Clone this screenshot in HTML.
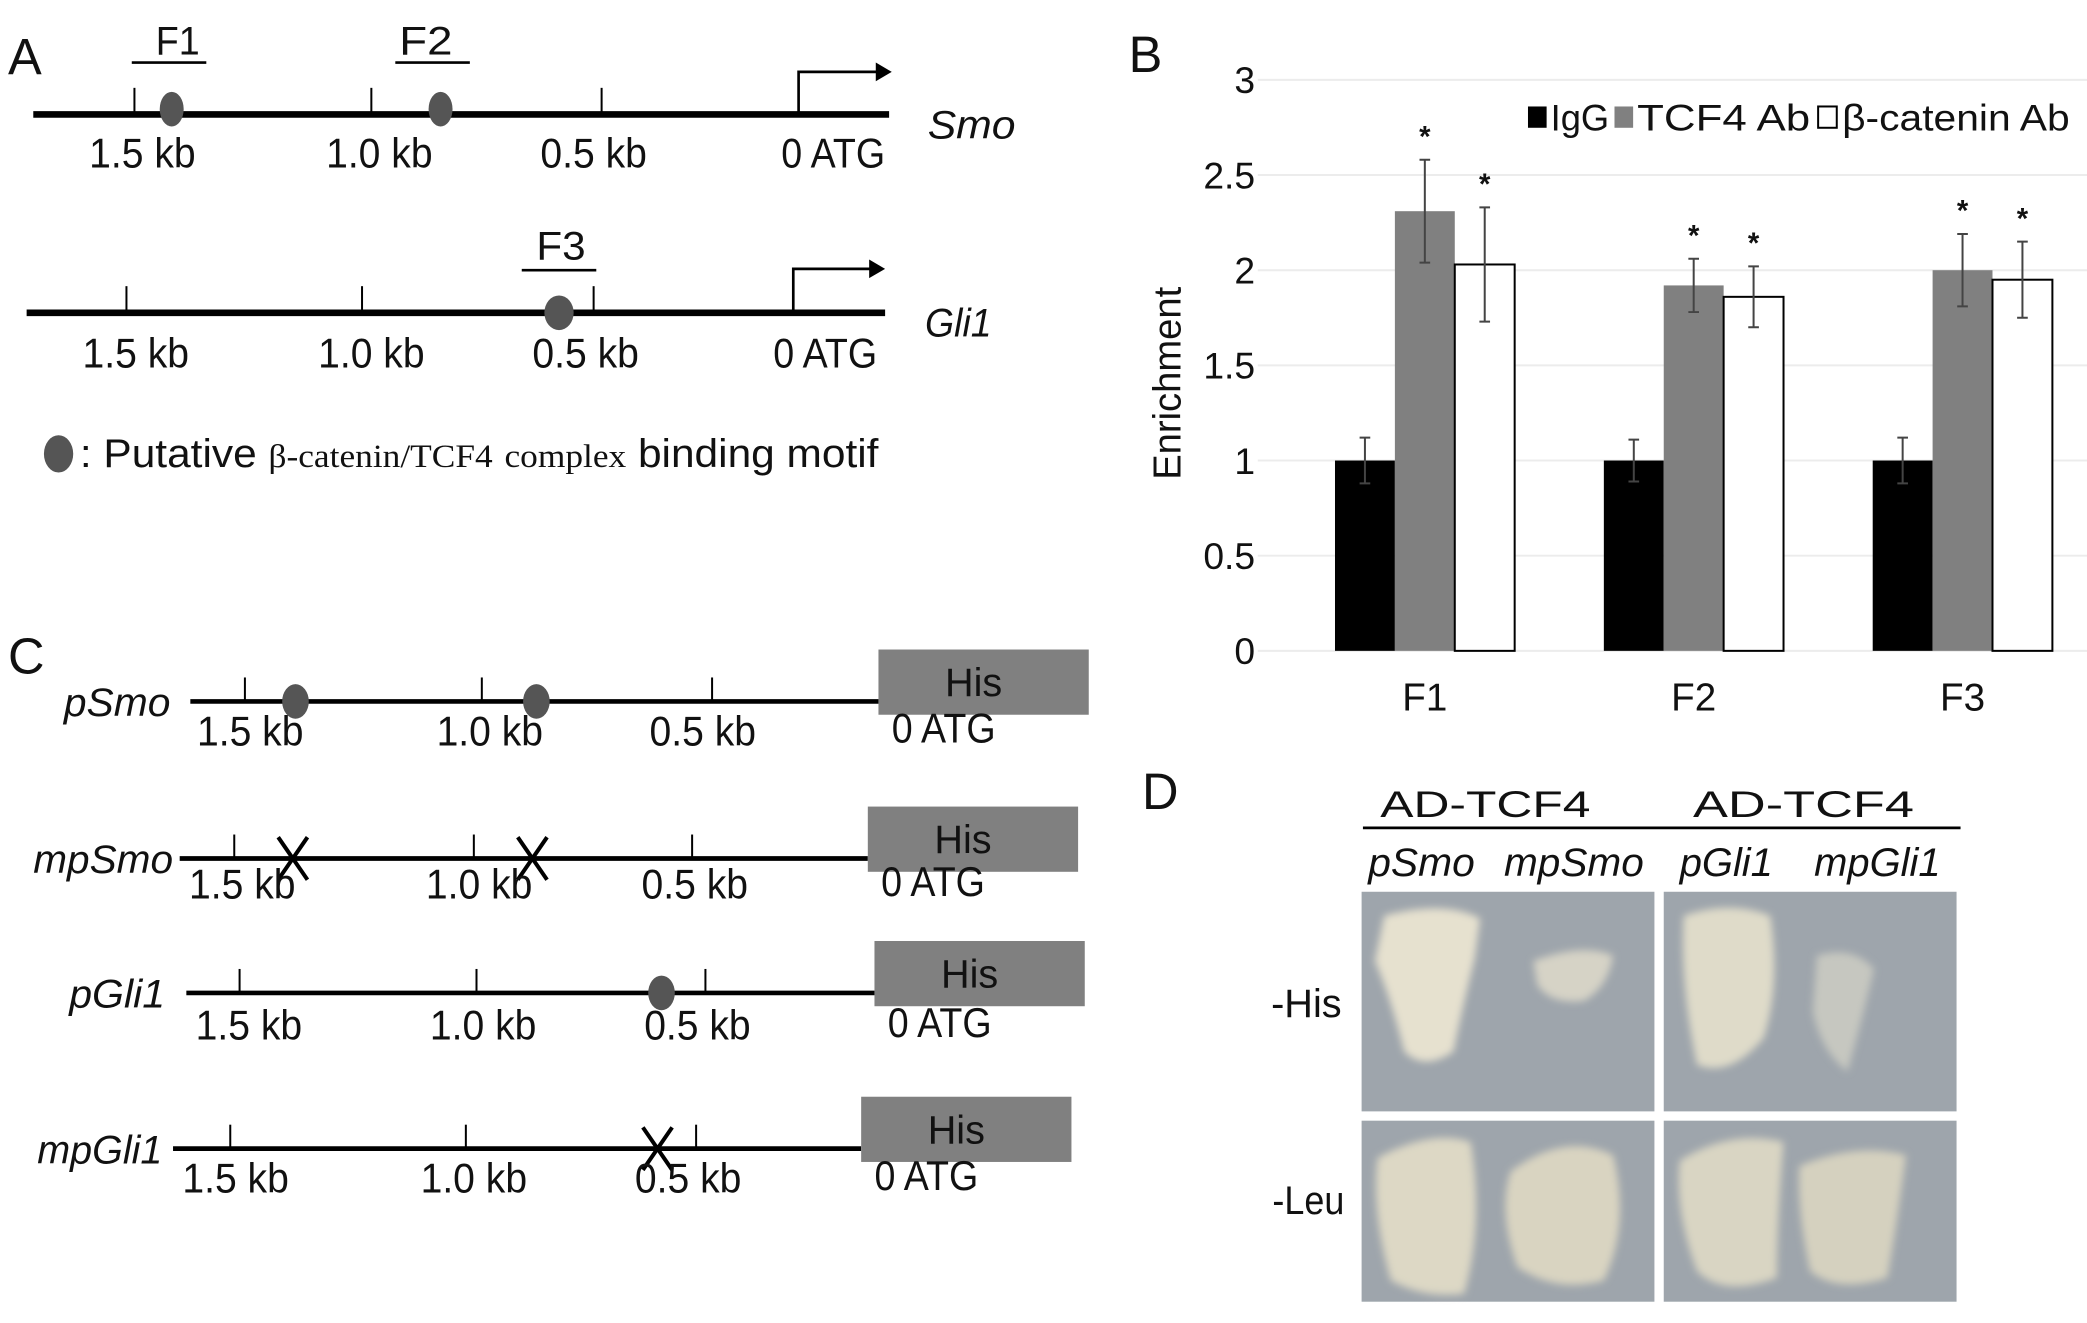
<!DOCTYPE html>
<html><head><meta charset="utf-8">
<style>
html,body{margin:0;padding:0;background:#fff;}
svg{display:block;}
text{font-family:"Liberation Sans",sans-serif;fill:#111;}
</style></head>
<body>
<svg id="fig" width="2087" height="1323" viewBox="0 0 1568 994" xmlns="http://www.w3.org/2000/svg">
<defs>
<filter id="blur" x="-20%" y="-20%" width="140%" height="140%"><feGaussianBlur stdDeviation="3"/></filter>
</defs>

<!-- Panel A -->
<g>
<text x="6" y="56" font-size="38">A</text>
<g>
<line x1="25" y1="86" x2="668" y2="86" stroke="#000" stroke-width="5"/>
<line x1="101" y1="66" x2="101" y2="86" stroke="#000" stroke-width="1.5"/>
<line x1="279" y1="66" x2="279" y2="86" stroke="#000" stroke-width="1.5"/>
<line x1="452" y1="66" x2="452" y2="86" stroke="#000" stroke-width="1.5"/>
<polyline points="600,86 600,54 660,54" fill="none" stroke="#000" stroke-width="2"/>
<polygon points="658,47 670,54 658,61" fill="#000"/>
<ellipse cx="129" cy="82" rx="9" ry="13" fill="#555"/>
<ellipse cx="331" cy="82" rx="9" ry="13" fill="#555"/>
<line x1="99" y1="47" x2="155" y2="47" stroke="#000" stroke-width="2"/>
<line x1="297" y1="47" x2="353" y2="47" stroke="#000" stroke-width="2"/>
<text x="117" y="41" font-size="30" textLength="33" lengthAdjust="spacingAndGlyphs">F1</text>
<text x="300" y="41" font-size="30" textLength="40" lengthAdjust="spacingAndGlyphs">F2</text>
<text x="67" y="126" font-size="31" textLength="80" lengthAdjust="spacingAndGlyphs">1.5 kb</text>
<text x="245" y="126" font-size="31" textLength="80" lengthAdjust="spacingAndGlyphs">1.0 kb</text>
<text x="406" y="126" font-size="31" textLength="80" lengthAdjust="spacingAndGlyphs">0.5 kb</text>
<text x="587" y="126" font-size="31" textLength="78" lengthAdjust="spacingAndGlyphs">0 ATG</text>
<text x="697" y="104" font-size="30" font-style="italic" textLength="66" lengthAdjust="spacingAndGlyphs">Smo</text>
</g>
<g>
<line x1="20" y1="235" x2="665" y2="235" stroke="#000" stroke-width="5"/>
<line x1="95" y1="215" x2="95" y2="235" stroke="#000" stroke-width="1.5"/>
<line x1="272" y1="215" x2="272" y2="235" stroke="#000" stroke-width="1.5"/>
<line x1="446" y1="215" x2="446" y2="235" stroke="#000" stroke-width="1.5"/>
<polyline points="596,235 596,202 655,202" fill="none" stroke="#000" stroke-width="2"/>
<polygon points="653,195 665,202 653,209" fill="#000"/>
<ellipse cx="420" cy="235" rx="11" ry="13" fill="#555"/>
<line x1="392" y1="203" x2="448" y2="203" stroke="#000" stroke-width="2"/>
<text x="403" y="195" font-size="30" textLength="37" lengthAdjust="spacingAndGlyphs">F3</text>
<text x="62" y="276" font-size="31" textLength="80" lengthAdjust="spacingAndGlyphs">1.5 kb</text>
<text x="239" y="276" font-size="31" textLength="80" lengthAdjust="spacingAndGlyphs">1.0 kb</text>
<text x="400" y="276" font-size="31" textLength="80" lengthAdjust="spacingAndGlyphs">0.5 kb</text>
<text x="581" y="276" font-size="31" textLength="78" lengthAdjust="spacingAndGlyphs">0 ATG</text>
<text x="695" y="253" font-size="30" font-style="italic" textLength="50" lengthAdjust="spacingAndGlyphs">Gli1</text>
</g>
<g>
<ellipse cx="44" cy="341" rx="11" ry="14" fill="#555"/>
<text x="60" y="351" font-size="30" textLength="600" lengthAdjust="spacingAndGlyphs">: Putative <tspan font-family="Liberation Serif" font-size="25">β-catenin/TCF4</tspan>  <tspan font-family="Liberation Serif" font-size="25">complex</tspan>  binding motif</text>
</g>
</g>

<!-- Panel B -->
<g id="chart">
<text x="848" y="54" font-size="38">B</text>
<text transform="translate(887,288) rotate(-90)" font-size="29" text-anchor="middle" textLength="145" lengthAdjust="spacingAndGlyphs">Enrichment</text>
<g id="grid"></g>
<g id="bars"></g>
<g>
<rect x="1148" y="80" width="14" height="16" fill="#000"/>
<text x="1165" y="98" font-size="28" textLength="44" lengthAdjust="spacingAndGlyphs">IgG</text>
<rect x="1213" y="80" width="14" height="16" fill="#808080"/>
<text x="1230" y="98" font-size="28" textLength="130" lengthAdjust="spacingAndGlyphs">TCF4 Ab</text>
<rect x="1366" y="80" width="14" height="16" fill="#fff" stroke="#000" stroke-width="1.5"/>
<text x="1384" y="98" font-size="28" textLength="171" lengthAdjust="spacingAndGlyphs">β-catenin Ab</text>
</g>
</g>

<!-- Panel C -->
<g id="panelc">
<text x="6" y="506" font-size="38">C</text>
</g>

<!-- Panel D -->
<g>
<text x="858" y="608" font-size="38">D</text>
<text x="1037" y="614" font-size="28" textLength="158" lengthAdjust="spacingAndGlyphs">AD-TCF4</text>
<text x="1272" y="614" font-size="28" textLength="166" lengthAdjust="spacingAndGlyphs">AD-TCF4</text>
<line x1="1024" y1="622" x2="1473" y2="622" stroke="#000" stroke-width="2"/>
<text x="1028" y="658" font-size="30" font-style="italic" textLength="80" lengthAdjust="spacingAndGlyphs">pSmo</text>
<text x="1130" y="658" font-size="30" font-style="italic" textLength="105" lengthAdjust="spacingAndGlyphs">mpSmo</text>
<text x="1262" y="658" font-size="30" font-style="italic" textLength="70" lengthAdjust="spacingAndGlyphs">pGli1</text>
<text x="1363" y="658" font-size="30" font-style="italic" textLength="95" lengthAdjust="spacingAndGlyphs">mpGli1</text>
<text x="955" y="764" font-size="30" textLength="53" lengthAdjust="spacingAndGlyphs">-His</text>
<text x="956" y="912" font-size="30" textLength="54" lengthAdjust="spacingAndGlyphs">-Leu</text>
<g>
<rect x="1023" y="670" width="220" height="165" fill="#9ea5ac"/>
<path d="M1040,688 Q1085,676 1112,690 L1108,720 Q1098,760 1092,790 Q1070,805 1055,790 Q1045,750 1033,722 Z" fill="#e6e1cf" filter="url(#blur)"/>
<path d="M1152,722 Q1190,708 1212,718 Q1208,742 1190,752 Q1165,755 1155,740 Z" fill="#d6d3c6" filter="url(#blur)"/>
</g>
<g>
<rect x="1250" y="670" width="220" height="165" fill="#9ea5ac"/>
<path d="M1265,688 Q1300,676 1330,688 Q1338,740 1325,780 Q1300,810 1275,800 Q1262,740 1265,688 Z" fill="#dfdbc9" filter="url(#blur)"/>
<path d="M1365,718 Q1392,710 1408,728 Q1398,770 1388,805 Q1368,790 1362,760 Z" fill="#c6c7c0" filter="url(#blur)"/>
</g>
<g>
<rect x="1023" y="842" width="220" height="136" fill="#9ea5ac"/>
<path d="M1035,870 Q1075,848 1105,858 Q1115,920 1100,972 Q1070,976 1045,962 Q1030,910 1035,870 Z" fill="#ddd8c5" filter="url(#blur)"/>
<path d="M1135,880 Q1175,850 1212,868 Q1225,920 1205,962 Q1170,972 1140,952 Q1125,910 1135,880 Z" fill="#d9d4c1" filter="url(#blur)"/>
</g>
<g>
<rect x="1250" y="842" width="220" height="136" fill="#9ea5ac"/>
<path d="M1262,872 Q1300,848 1340,858 Q1335,920 1335,960 Q1295,975 1275,955 Q1258,910 1262,872 Z" fill="#d9d5c3" filter="url(#blur)"/>
<path d="M1352,876 Q1395,858 1432,868 Q1425,920 1418,960 Q1380,972 1360,955 Q1350,910 1352,876 Z" fill="#d5d1bf" filter="url(#blur)"/>
</g>
</g>
</svg>

<script>
const categories = ["F1", "F2", "F3"];
const seriesNames = ["IgG", "TCF4 Ab", "β-catenin Ab"];
const iggValues = [1.0, 1.0, 1.0];
const tcf4Values = [2.31, 1.92, 2.0];
const bcatValues = [2.03, 1.86, 1.95];
const iggErrors = [0.12, 0.11, 0.12];
const tcf4Errors = [0.27, 0.14, 0.19];
const bcatErrors = [0.30, 0.16, 0.20];
const tcf4Sig = [true, true, true];
const bcatSig = [true, true, true];
const yTicks = [0, 0.5, 1, 1.5, 2, 2.5, 3];
const yTickLabels = ["0", "0.5", "1", "1.5", "2", "2.5", "3"];

const NS = "http://www.w3.org/2000/svg";
const plotLeft = 945, plotRight = 1568, yBase = 489, yTop = 60, yMax = 3;
const groupStart = 1003, groupStep = 202, barW = 45;
function yScale(v){ return yBase - (v / yMax) * (yBase - yTop); }
function xGroup(i){ return groupStart + i * groupStep; }
function mk(tag, attrs, parent){ const e = document.createElementNS(NS, tag); for (const k in attrs) e.setAttribute(k, attrs[k]); parent.appendChild(e); return e; }

const grid = document.getElementById('grid');
yTicks.forEach((t, i) => {
  const y = yScale(t);
  const gl = mk('line', {x1: plotLeft, x2: plotRight, y1: y, y2: y, stroke: '#ececec', 'stroke-width': 1.5}, grid);
  
  
  const tl = mk('text', {x: 943, y: y + 10, 'font-size': 28, 'text-anchor': 'end'}, grid);
  tl.textContent = yTickLabels[i];
  
  
});

const bars = document.getElementById('bars');
const series = [iggValues, tcf4Values, bcatValues];
const errs = [iggErrors, tcf4Errors, bcatErrors];
const fills = ['#000', '#808080', '#fff'];
categories.forEach((c, i) => {
  for (let s = 0; s < 3; s++) {
    const x = xGroup(i) + s * barW;
    const v = series[s][i];
    const r = mk('rect', {x: x, y: yScale(v), width: barW, height: yBase - yScale(v), fill: fills[s], stroke: s === 2 ? '#000' : 'none', 'stroke-width': 1.5}, bars);
    
    
    const cx = x + barW / 2, e = errs[s][i];
    const eb = mk('path', {d: `M${cx},${yScale(v+e)}V${yScale(v-e)}M${cx-4},${yScale(v+e)}H${cx+4}M${cx-4},${yScale(v-e)}H${cx+4}`, stroke: '#444', 'stroke-width': 1.5, fill: 'none'}, bars);
    
    
    const sig = s === 1 ? tcf4Sig[i] : s === 2 ? bcatSig[i] : false;
    if (sig) {
      const st = mk('text', {x: cx, y: yScale(v + e) - 10, 'font-size': 22, 'text-anchor': 'middle', 'font-weight': 'bold'}, bars);
      st.textContent = '*';
      
      
    }
  }
  const lab = mk('text', {x: xGroup(i) + 1.5 * barW, y: 534, 'font-size': 29, 'text-anchor': 'middle'}, bars);
  lab.textContent = c;
  
  
});

// Panel C constructs
const pc = document.getElementById('panelc');
const constructs = [
  {name:'pSmo', y:527, x1:143, ticks:[184,362,535], dots:[222,403], xs:[], lx:[148,328,488], ly:560, nx:48, nw:80},
  {name:'mpSmo', y:645, x1:135, ticks:[176,356,520], dots:[], xs:[220,400], lx:[142,320,482], ly:675, nx:25, nw:105},
  {name:'pGli1', y:746, x1:140, ticks:[180,358,530], dots:[497], xs:[], lx:[147,323,484], ly:781, nx:52, nw:72},
  {name:'mpGli1', y:863, x1:130, ticks:[173,350,523], dots:[], xs:[494], lx:[137,316,477], ly:896, nx:28, nw:94}
];
constructs.forEach(c => {
  const g = mk('g', {}, pc);
  
  
  const x2 = c.x1 + 517;
  mk('line', {x1: c.x1, x2: x2, y1: c.y, y2: c.y, stroke: '#000', 'stroke-width': 3.5}, g);
  c.ticks.forEach(t => mk('line', {x1: t, x2: t, y1: c.y - 18, y2: c.y, stroke: '#000', 'stroke-width': 1.5}, g));
  c.dots.forEach(d => mk('ellipse', {cx: d, cy: c.y, rx: 10, ry: 13, fill: '#555'}, g));
  c.xs.forEach(d => mk('path', {d: `M${d-11},${c.y-16}L${d+11},${c.y+16}M${d+11},${c.y-16}L${d-11},${c.y+16}`, stroke: '#000', 'stroke-width': 3}, g));
  mk('rect', {x: x2, y: c.y - 39, width: 158, height: 49, fill: '#808080'}, g);
  const h = mk('text', {x: x2 + 50, y: c.y - 4, 'font-size': 30, textLength: 43, lengthAdjust: 'spacingAndGlyphs'}, g); h.textContent = 'His';
  const nm = mk('text', {x: c.nx, y: c.y + 11, 'font-size': 30, 'font-style': 'italic', textLength: c.nw, lengthAdjust: 'spacingAndGlyphs'}, g); nm.textContent = c.name;
  ['1.5 kb','1.0 kb','0.5 kb'].forEach((l, k) => { const t = mk('text', {x: c.lx[k], y: c.ly, 'font-size': 31, textLength: 80, lengthAdjust: 'spacingAndGlyphs'}, g); t.textContent = l; });
  const a = mk('text', {x: x2 + 10, y: c.ly - 2, 'font-size': 31, textLength: 78, lengthAdjust: 'spacingAndGlyphs'}, g); a.textContent = '0 ATG';
});
</script>
</body></html>
